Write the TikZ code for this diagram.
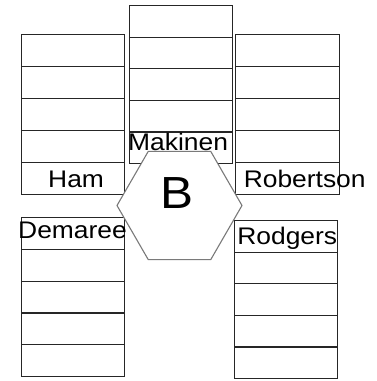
\documentclass[tikz,border=0pt]{standalone}
\usepackage{fontspec}
\setmainfont{Liberation Sans}
\newfontfamily\labelfont[FakeStretch=1.1]{Liberation Sans}
\usetikzlibrary{shapes.geometric}
\definecolor{cellline}{HTML}{262626}
\definecolor{hexline}{HTML}{7A7A7A}
\tikzset{
  cell/.style={draw=cellline, line width=1.2pt, fill=white, inner sep=0pt, minimum width=#1, anchor=north west},
  hexbox/.style={regular polygon, regular polygon sides=6, draw=hexline, line width=1.1pt, fill=white, inner sep=0pt, minimum size=125pt},
  lbl/.style={anchor=base west, inner sep=0pt, text=black, font=\labelfont\fontsize{24}{24}\selectfont}
}
\begin{document}
\begin{tikzpicture}[x=1pt,y=-1pt]
\useasboundingbox (0,0) rectangle (376,381);
% left top stack (Ham)
\foreach \i in {0,...,4}
  \node[cell=103pt, minimum height=32pt] (ham\i) at (21,34+32*\i) {};
% center stack (Makinen)
\foreach \i in {0,...,4}
  \node[cell=103pt, minimum height=31.6pt] (mak\i) at (129,5+31.6*\i) {};
% right top stack (Robertson)
\foreach \i in {0,...,4}
  \node[cell=104pt, minimum height=32pt] (rob\i) at (235,34+32*\i) {};
% left bottom stack (Demaree)
\foreach \i in {0,...,4}
  \node[cell=103pt, minimum height=31.8pt] (dem\i) at (21,217+31.8*\i) {};
% right bottom stack (Rodgers)
\foreach \i in {0,...,4}
  \node[cell=103pt, minimum height=31.6pt] (rod\i) at (234,220+31.6*\i) {};
% hexagon
\node[hexbox] (hex) at (179.5,205.5) {};
% labels
\node[lbl] (lham) at (48,187) {Ham};
\node[lbl] (lmak) at (128,150) {Makinen};
\node[lbl] (lrob) at (243.6,187.5) {Robertson};
\node[lbl] (ldem) at (18,238.5) {Demaree};
\node[lbl] (lrod) at (237.2,244.5) {Rodgers};
\node[lbl, font=\labelfont\fontsize{45}{45}\selectfont] (lb) at (160,208) {B};
\end{tikzpicture}
\end{document}
